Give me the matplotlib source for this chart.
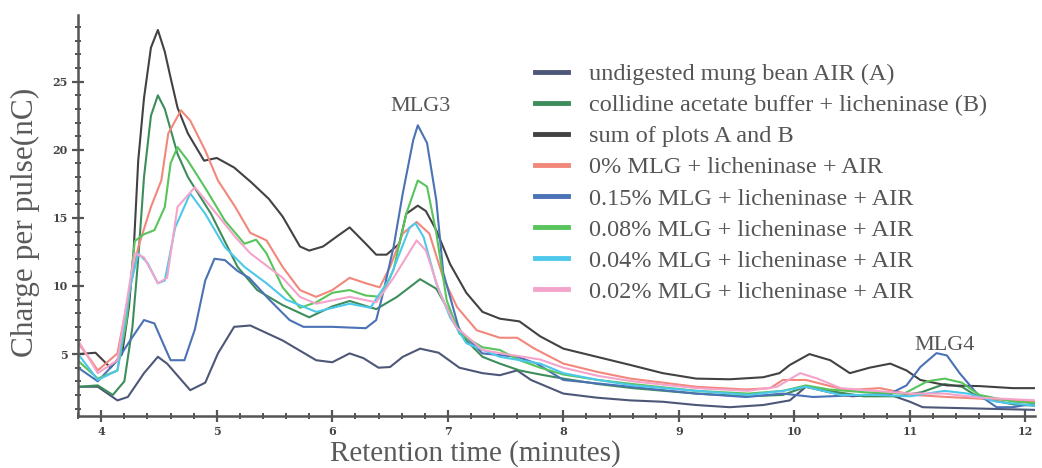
import matplotlib.pyplot as plt
from matplotlib.ticker import MultipleLocator

# retention time (min) / charge (nC)
t_a = [3.8, 3.97, 4.14, 4.23, 4.37, 4.49, 4.57, 4.77, 4.9, 5.01, 5.15, 5.29, 5.57, 5.86, 6.0, 6.15, 6.27, 6.4, 6.5, 6.61, 6.76, 6.92, 7.1, 7.3, 7.45, 7.6, 7.72, 8.0, 8.29, 8.58, 8.86, 9.15, 9.44, 9.73, 9.96, 10.1, 10.3, 10.5, 10.8, 11.0, 11.11, 11.6, 12.1]
v_a = [2.6, 2.6, 1.6, 1.85, 3.6, 4.8, 4.3, 2.35, 2.9, 5.05, 7.0, 7.1, 6.0, 4.55, 4.4, 5.05, 4.7, 4.0, 4.05, 4.8, 5.4, 5.1, 4.0, 3.6, 3.45, 3.8, 3.1, 2.1, 1.8, 1.6, 1.5, 1.26, 1.1, 1.26, 1.6, 2.6, 2.2, 1.9, 2.1, 1.5, 1.1, 1.0, 0.9]

t_b = [3.8, 3.97, 4.1, 4.2, 4.27, 4.32, 4.37, 4.43, 4.49, 4.55, 4.6, 4.66, 4.75, 4.95, 5.18, 5.35, 5.57, 5.8, 6.0, 6.15, 6.38, 6.56, 6.76, 6.9, 7.02, 7.16, 7.3, 7.45, 7.62, 7.8, 8.0, 8.3, 8.6, 9.15, 9.6, 9.9, 10.1, 10.3, 10.6, 10.9, 11.1, 11.3, 11.45, 11.6, 11.9, 12.1]
v_b = [2.6, 2.7, 2.0, 3.0, 7.0, 12.0, 18.0, 22.5, 24.0, 23.0, 21.5, 19.7, 18.0, 15.3, 11.4, 9.7, 8.6, 7.7, 8.5, 8.9, 8.3, 9.2, 10.5, 9.8, 8.0, 6.0, 4.8, 4.3, 3.8, 3.5, 3.2, 2.8, 2.5, 2.1, 1.9, 2.0, 2.6, 2.3, 1.9, 1.9, 2.2, 2.8, 2.6, 1.8, 1.3, 1.2]

t_sum = [3.8, 3.95, 4.08, 4.18, 4.24, 4.28, 4.32, 4.37, 4.43, 4.49, 4.55, 4.6, 4.66, 4.75, 4.89, 5.0, 5.15, 5.3, 5.45, 5.57, 5.72, 5.8, 5.92, 6.05, 6.15, 6.29, 6.38, 6.47, 6.58, 6.64, 6.74, 6.81, 6.9, 7.02, 7.16, 7.3, 7.45, 7.62, 7.8, 8.0, 8.29, 8.58, 8.86, 9.15, 9.44, 9.73, 9.87, 9.96, 10.13, 10.31, 10.48, 10.65, 10.83, 10.97, 11.09, 11.32, 11.6, 11.89, 12.1]
v_sum = [5.0, 5.1, 4.0, 5.0, 8.5, 12.5, 19.2, 23.8, 27.5, 28.8, 27.2, 25.3, 23.1, 21.2, 19.2, 19.4, 18.7, 17.6, 16.4, 15.1, 12.9, 12.6, 12.9, 13.7, 14.3, 13.1, 12.3, 12.3, 13.1, 15.3, 15.9, 15.5, 14.1, 11.6, 9.5, 8.1, 7.6, 7.4, 6.3, 5.4, 4.8, 4.2, 3.6, 3.2, 3.15, 3.3, 3.6, 4.2, 5.0, 4.55, 3.6, 4.0, 4.3, 3.8, 3.1, 2.7, 2.65, 2.5, 2.5]

t_0 = [3.8, 3.91, 3.97, 4.14, 4.25, 4.32, 4.43, 4.52, 4.58, 4.69, 4.77, 4.9, 5.01, 5.16, 5.29, 5.43, 5.57, 5.72, 5.86, 6.0, 6.15, 6.29, 6.41, 6.5, 6.61, 6.73, 6.84, 6.96, 7.08, 7.25, 7.45, 7.6, 7.75, 8.0, 8.29, 8.58, 9.15, 9.58, 9.79, 9.9, 10.1, 10.45, 10.74, 11.03, 11.32, 11.9, 12.1]
v_0 = [5.8, 4.55, 3.8, 5.05, 9.9, 12.85, 15.8, 17.75, 21.2, 22.9, 22.15, 19.95, 17.75, 15.8, 13.9, 13.35, 11.4, 9.7, 9.2, 9.7, 10.6, 10.2, 9.9, 11.4, 13.85, 14.7, 13.85, 10.6, 8.45, 6.75, 6.2, 6.2, 5.4, 4.3, 3.7, 3.2, 2.6, 2.4, 2.5, 3.1, 3.1, 2.35, 2.5, 2.0, 1.85, 1.6, 1.5]

t_15 = [3.8, 3.97, 4.14, 4.25, 4.37, 4.46, 4.55, 4.6, 4.72, 4.81, 4.9, 4.98, 5.07, 5.18, 5.28, 5.46, 5.63, 5.75, 6.0, 6.29, 6.38, 6.44, 6.53, 6.61, 6.7, 6.74, 6.82, 6.9, 6.96, 7.1, 7.3, 7.6, 7.77, 8.0, 8.58, 9.15, 9.58, 9.9, 10.16, 10.6, 10.83, 10.97, 11.09, 11.23, 11.32, 11.43, 11.58, 11.75, 11.89, 12.1]
v_15 = [4.0, 3.0, 4.55, 6.0, 7.5, 7.25, 5.5, 4.55, 4.55, 6.8, 10.4, 12.0, 11.9, 11.1, 10.6, 8.95, 7.5, 7.0, 7.0, 6.9, 7.5, 9.5, 12.85, 16.8, 20.7, 21.8, 20.5, 16.3, 11.0, 6.75, 5.05, 4.8, 4.3, 3.1, 2.6, 2.1, 1.85, 2.1, 1.85, 2.0, 2.1, 2.7, 4.05, 5.07, 4.9, 3.6, 2.1, 1.1, 1.1, 1.4]

t_08 = [3.8, 3.97, 4.14, 4.22, 4.29, 4.37, 4.46, 4.55, 4.6, 4.66, 4.75, 4.9, 5.07, 5.24, 5.34, 5.43, 5.57, 5.72, 5.86, 6.0, 6.15, 6.29, 6.42, 6.53, 6.64, 6.74, 6.82, 6.9, 6.99, 7.1, 7.3, 7.45, 7.62, 7.8, 8.0, 8.3, 8.6, 9.15, 9.6, 9.9, 10.1, 10.3, 10.6, 10.95, 11.15, 11.3, 11.45, 11.6, 11.9, 12.1]
v_08 = [4.5, 3.2, 3.8, 7.5, 13.3, 13.8, 14.1, 15.8, 19.0, 20.2, 19.2, 17.2, 14.8, 13.1, 13.4, 12.4, 9.9, 8.4, 8.8, 9.5, 9.7, 9.3, 9.2, 11.2, 15.3, 17.75, 17.3, 13.9, 8.95, 6.5, 5.5, 5.3, 4.55, 4.0, 3.5, 3.1, 2.8, 2.3, 2.1, 2.3, 2.7, 2.4, 2.2, 2.1, 3.0, 3.2, 2.9, 2.0, 1.5, 1.4]

t_04 = [3.8, 3.97, 4.14, 4.25, 4.32, 4.4, 4.49, 4.55, 4.64, 4.77, 4.9, 5.07, 5.24, 5.43, 5.6, 5.86, 6.15, 6.33, 6.5, 6.67, 6.72, 6.79, 6.9, 7.02, 7.16, 7.45, 7.8, 8.0, 8.3, 8.6, 9.15, 9.6, 9.9, 10.1, 10.4, 10.7, 11.0, 11.3, 11.5, 11.75, 12.1]
v_04 = [5.0, 3.1, 3.8, 9.9, 12.4, 11.7, 10.2, 10.4, 14.3, 16.8, 15.3, 12.85, 11.4, 10.2, 9.0, 8.1, 8.7, 8.4, 10.6, 14.3, 14.6, 13.6, 10.2, 7.7, 5.8, 4.8, 4.3, 3.6, 3.1, 2.7, 2.3, 2.0, 2.3, 2.6, 2.0, 2.0, 1.9, 2.3, 2.1, 1.5, 1.2]

t_02 = [3.8, 3.97, 4.14, 4.25, 4.29, 4.37, 4.49, 4.57, 4.66, 4.81, 4.95, 5.16, 5.29, 5.57, 5.72, 5.86, 6.15, 6.38, 6.53, 6.73, 6.81, 6.93, 7.07, 7.3, 7.5, 7.8, 8.0, 8.3, 8.6, 9.15, 9.6, 9.85, 10.05, 10.2, 10.4, 10.7, 11.0, 11.3, 11.6, 12.1]
v_02 = [6.0, 3.6, 4.55, 10.4, 12.4, 12.1, 10.2, 10.6, 15.8, 17.25, 15.8, 13.6, 12.4, 10.6, 9.2, 8.7, 9.2, 8.8, 10.6, 13.35, 12.6, 9.5, 7.0, 5.3, 5.0, 4.6, 4.0, 3.4, 3.0, 2.5, 2.3, 2.6, 3.6, 3.2, 2.5, 2.3, 2.1, 2.1, 1.8, 1.6]

series = [
    (t_a, v_a, "undigested mung bean AIR (A)", "#4d5777"),
    (t_b, v_b, "collidine acetate buffer + licheninase (B)", "#3d8d5b"),
    (t_sum, v_sum, "sum of plots A and B", "#424242"),
    (t_0, v_0, "0% MLG + licheninase + AIR", "#f2877c"),
    (t_15, v_15, "0.15% MLG + licheninase + AIR", "#4a72b5"),
    (t_08, v_08, "0.08% MLG + licheninase + AIR", "#58c45c"),
    (t_04, v_04, "0.04% MLG + licheninase + AIR", "#4ec8ea"),
    (t_02, v_02, "0.02% MLG + licheninase + AIR", "#f4a3cb"),
]

fig = plt.figure(figsize=(10.42, 4.68), dpi=100)
ax = fig.add_axes([0.075, 0.111, 0.918, 0.857])

for t, v, lab, col in series:
    ax.plot(t, v, color=col, lw=1.5, label=lab)

ax.set_xlim(3.8, 12.08)
ax.set_ylim(0.45, 29.9)
ax.xaxis.set_major_locator(MultipleLocator(1))
ax.xaxis.set_minor_locator(MultipleLocator(0.2))
ax.yaxis.set_minor_locator(MultipleLocator(1))
ax.set_yticks([5, 10, 15, 20, 25])

for s in ["top", "right"]:
    ax.spines[s].set_visible(False)
for s in ["left", "bottom"]:
    ax.spines[s].set_color("#555555")
    ax.spines[s].set_linewidth(1.8)

ax.tick_params(which="major", direction="inout", length=9, width=1.6, color="#555555",
               labelsize=8, labelcolor="#444444", pad=3)
ax.tick_params(which="minor", direction="inout", length=5, width=1.4, color="#555555")
for lbl in ax.get_xticklabels() + ax.get_yticklabels():
    lbl.set_fontweight("bold")
    lbl.set_family("DejaVu Serif")

ax.set_xlabel("Retention time (minutes)", family="Liberation Serif", fontsize=21,
              color="#5a5a5a")
ax.xaxis.set_label_coords(0.415, -0.06)
ax.set_ylabel("Charge per pulse(nC)", family="Liberation Serif", fontsize=22.5,
              color="#5a5a5a")
ax.yaxis.set_label_coords(-0.04, 0.484)

ax.text(6.76, 23.2, "MLG3", family="Liberation Serif", fontsize=16, color="#555555",
        ha="center", va="center")
ax.text(11.3, 5.6, "MLG4", family="Liberation Serif", fontsize=16, color="#555555",
        ha="center", va="center")

leg = ax.legend(loc="upper left", bbox_to_anchor=(0.504, 0.886), bbox_transform=fig.transFigure,
                frameon=False, prop={"family": "Liberation Serif", "size": 17.5},
                handlelength=1.36, handletextpad=0.86, labelspacing=0.375, borderaxespad=0)
for h in leg.legend_handles:
    h.set_linewidth(3.5)
for txt in leg.get_texts():
    txt.set_color("#555555")

fig.savefig("out.png", dpi=100)
